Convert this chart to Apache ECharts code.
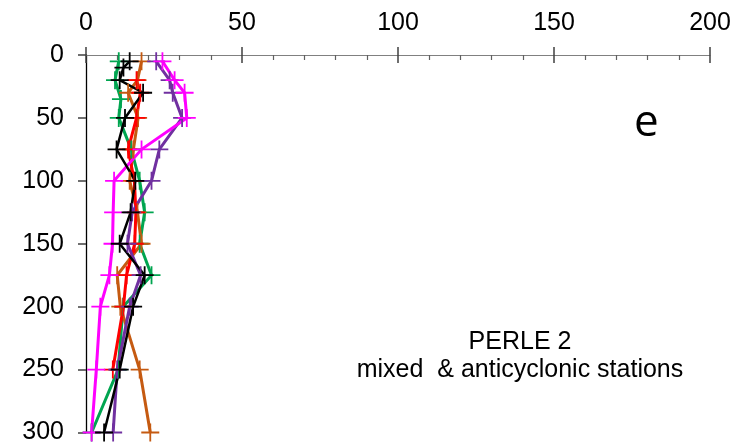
<!DOCTYPE html>
<html>
<head>
<meta charset="utf-8">
<script src="https://cdn.jsdelivr.net/npm/echarts@6/dist/echarts.min.js"></script>
<style>
html,body{margin:0;padding:0;background:#fff;}
#chart{width:740px;height:445px;}
</style>
</head>
<body>
<div id="chart"></div>
<script>
// Depths (m) and values per station
const xTicks = [0, 50, 100, 150, 200];
const yTicks = [0, 50, 100, 150, 200, 250, 300];

const orangeDepth = [5, 20, 30, 50, 75, 100, 125, 150, 175, 200, 250, 300];
const orangeVals  = [17.8, 16.5, 13.5, 16.7, 15.2, 14.0, 16.5, 17.8, 10.0, 11.0, 17.2, 20.6];

const redDepth = [20, 30, 50, 75, 100, 125, 150, 175, 200, 250];
const redVals  = [16.2, 17.4, 16.2, 13.5, 15.5, 16.0, 15.6, 13.0, 12.0, 8.6];

const greenDepth = [5, 20, 35, 50, 75, 100, 125, 150, 175, 200, 250, 300];
const greenVals  = [10.5, 9.3, 11.2, 10.5, 14.5, 17.2, 18.8, 17.2, 21.0, 11.9, 10.3, 1.8];

const purpleDepth = [5, 20, 30, 50, 75, 100, 125, 150, 175, 200, 250, 300];
const purpleVals  = [22.5, 26.8, 27.8, 30.8, 23.5, 21.0, 14.8, 13.3, 17.5, 14.0, 10.0, 8.7];

const magentaDepth = [5, 20, 30, 50, 75, 100, 125, 150, 175, 200, 250, 300];
const magentaVals  = [24.5, 28.4, 31.6, 32.3, 17.8, 9.0, 8.7, 8.5, 7.5, 4.6, 3.3, 1.8];

const blackDepth = [5, 10, 20, 30, 50, 75, 100, 125, 150, 175, 200, 250, 300];
const blackVals  = [14.0, 12.0, 10.8, 18.3, 12.5, 9.8, 15.8, 14.3, 10.8, 18.8, 15.1, 10.8, 5.8];

const panelLetter = 'e';
const noteLines = ['PERLE 2', 'mixed  & anticyclonic stations'];

const plusPath = 'path://M-0.1,-1 L0.1,-1 L0.1,-0.1 L1,-0.1 L1,0.1 L0.1,0.1 L0.1,1 L-0.1,1 L-0.1,0.1 L-1,0.1 L-1,-0.1 L-0.1,-0.1 Z';

function mk(name, depth, vals, color, width) {
  return {
    name: name,
    type: 'line',
    xAxisIndex: 0,
    yAxisIndex: 0,
    data: vals.map((v, i) => [v, depth[i]]),
    symbol: plusPath,
    symbolSize: 18,
    showAllSymbol: true,
    clip: false,
    lineStyle: { color: color, width: width },
    itemStyle: { color: color },
    emphasis: { disabled: true },
    animation: false
  };
}

const chart = echarts.init(document.getElementById('chart'), null, { renderer: 'canvas' });
const labelFont = { fontFamily: 'Liberation Sans, Arial, sans-serif', fontSize: 25, color: '#000' };

chart.setOption({
  animation: false,
  grid: { left: 86, right: 30, top: 55, bottom: 10, containLabel: false },
  xAxis: [
    {
      type: 'value', position: 'top', min: 0, max: 200, interval: 50,
      axisLine: { show: true, lineStyle: { color: '#808080', width: 1 } },
      axisTick: { show: true, inside: false, length: 8, lineStyle: { color: '#404040', width: 1.5 } },
      axisLabel: Object.assign({ margin: 19, formatter: v => xTicks.includes(v) ? String(v) : '' }, labelFont),
      splitLine: { show: false }
    },
    {
      type: 'value', position: 'top', min: 0, max: 200, interval: 50,
      axisLine: { show: false },
      axisTick: { show: true, inside: true, length: 8, lineStyle: { color: '#404040', width: 1.5 } },
      minorTick: { show: true, splitNumber: 5, length: 5, lineStyle: { color: '#606060', width: 1.2 } },
      axisLabel: { show: false },
      splitLine: { show: false }
    }
  ],
  yAxis: [
    {
      type: 'value', inverse: true, min: 0, max: 300, interval: 50,
      axisLine: { show: true, lineStyle: { color: '#000', width: 1.3 } },
      axisTick: { show: true, inside: false, length: 8, lineStyle: { color: '#404040', width: 1.5 } },
      axisLabel: Object.assign({ margin: 22, formatter: v => yTicks.includes(v) ? String(v) : '' }, labelFont),
      splitLine: { show: false }
    },
    {
      type: 'value', inverse: true, min: 0, max: 300, interval: 50,
      axisLine: { show: false },
      axisTick: { show: true, inside: true, length: 8, lineStyle: { color: '#404040', width: 1.5 } },
      axisLabel: { show: false },
      splitLine: { show: false }
    }
  ],
  series: [
    mk('green', greenDepth, greenVals, '#00A550', 3),
    mk('orange', orangeDepth, orangeVals, '#C55A11', 3),
    mk('red', redDepth, redVals, '#FF0000', 3),
    mk('purple', purpleDepth, purpleVals, '#7030A0', 3),
    mk('magenta', magentaDepth, magentaVals, '#FF00FF', 3),
    mk('black', blackDepth, blackVals, '#000000', 2.5)
  ],
  graphic: [
    { type: 'text', left: 634, top: 101, style: { text: panelLetter, font: '44px "Open Sans", sans-serif', fill: '#000' } },
    { type: 'text', x: 520, y: 342, style: { text: noteLines[0], font: '25px "Liberation Sans", Arial, sans-serif', fill: '#000', textAlign: 'center', textVerticalAlign: 'middle' } },
    { type: 'text', x: 520, y: 370, style: { text: noteLines[1], font: '25px "Liberation Sans", Arial, sans-serif', fill: '#000', textAlign: 'center', textVerticalAlign: 'middle' } }
  ]
});
</script>
</body>
</html>
